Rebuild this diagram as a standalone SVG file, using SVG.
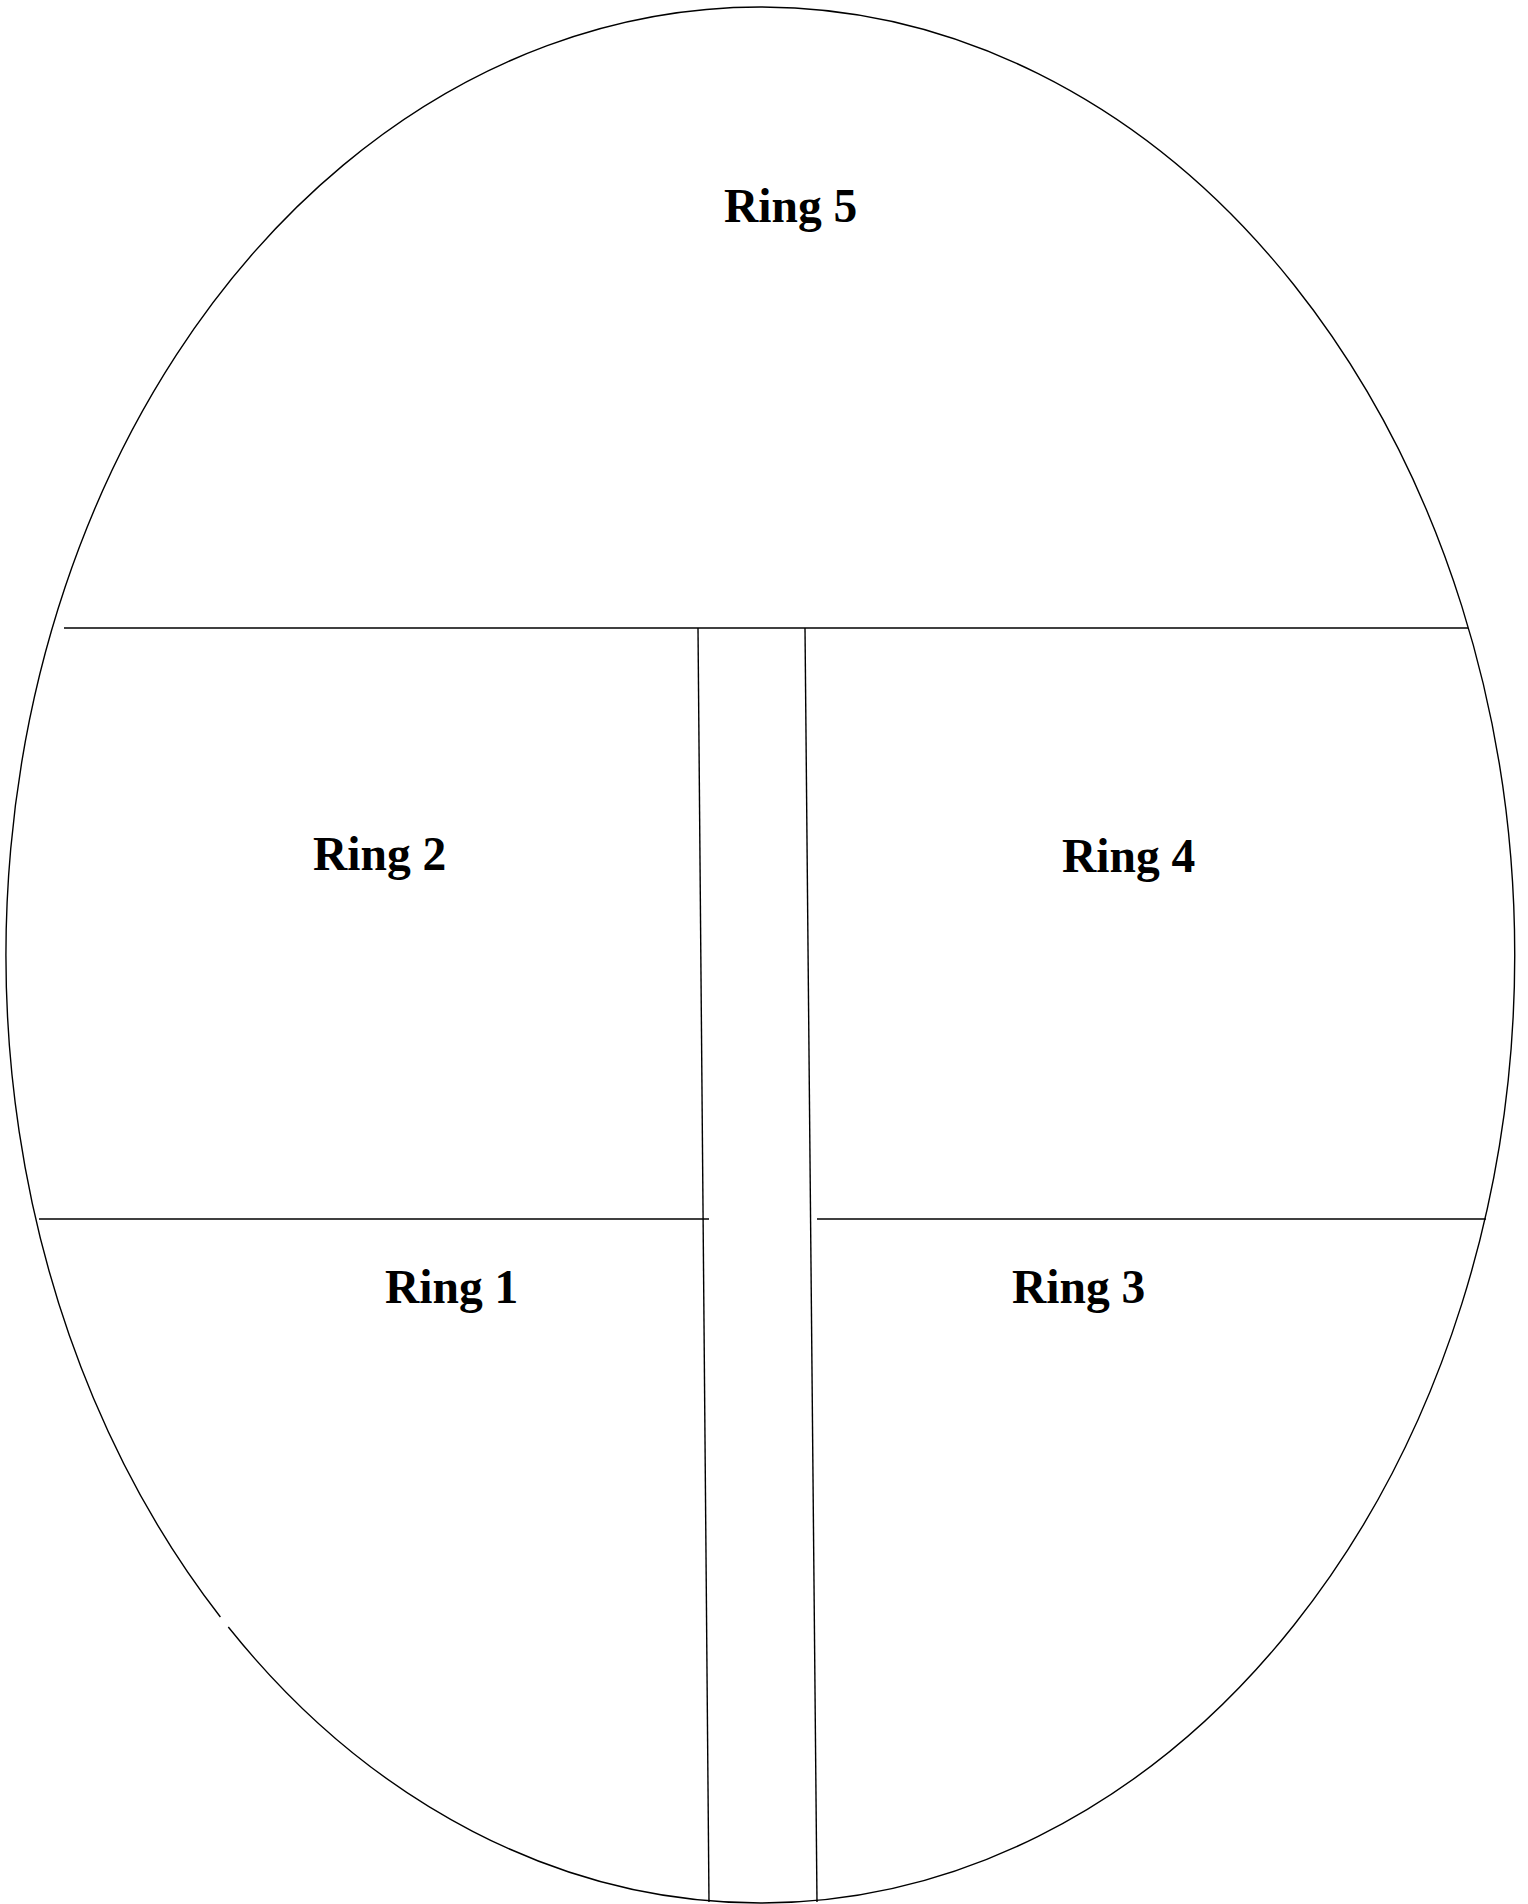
<svg xmlns="http://www.w3.org/2000/svg" width="1528" height="1904" viewBox="0 0 1528 1904">
<style>
.ln{fill:none;stroke:#000;stroke-width:1.4}
.lbl{font-family:"Liberation Serif","Times New Roman",serif;font-weight:bold;font-size:47.5px;fill:#000}
</style>
<rect width="1528" height="1904" fill="#fff"/>
<g id="connectors">
<path class="ln" d="M220.4 1617 A754.5 948 0 0 1 760.5 7 A754.5 948 0 0 1 760.5 1903 A754.5 948 0 0 1 228.3 1627"/>
<line class="ln" x1="64" y1="628" x2="1468" y2="628"/>
<line class="ln" x1="698" y1="628" x2="709" y2="1902"/>
<line class="ln" x1="805" y1="628" x2="817" y2="1902"/>
<line class="ln" x1="39" y1="1219" x2="709" y2="1219"/>
<line class="ln" x1="817" y1="1219" x2="1486" y2="1219"/>
</g>
<g id="ring5"><text class="lbl" x="724" y="222">Ring 5</text></g>
<g id="ring2"><text class="lbl" x="313" y="870">Ring 2</text></g>
<g id="ring4"><text class="lbl" x="1062" y="872">Ring 4</text></g>
<g id="ring1"><text class="lbl" x="385" y="1303">Ring 1</text></g>
<g id="ring3"><text class="lbl" x="1012" y="1303">Ring 3</text></g>
</svg>
